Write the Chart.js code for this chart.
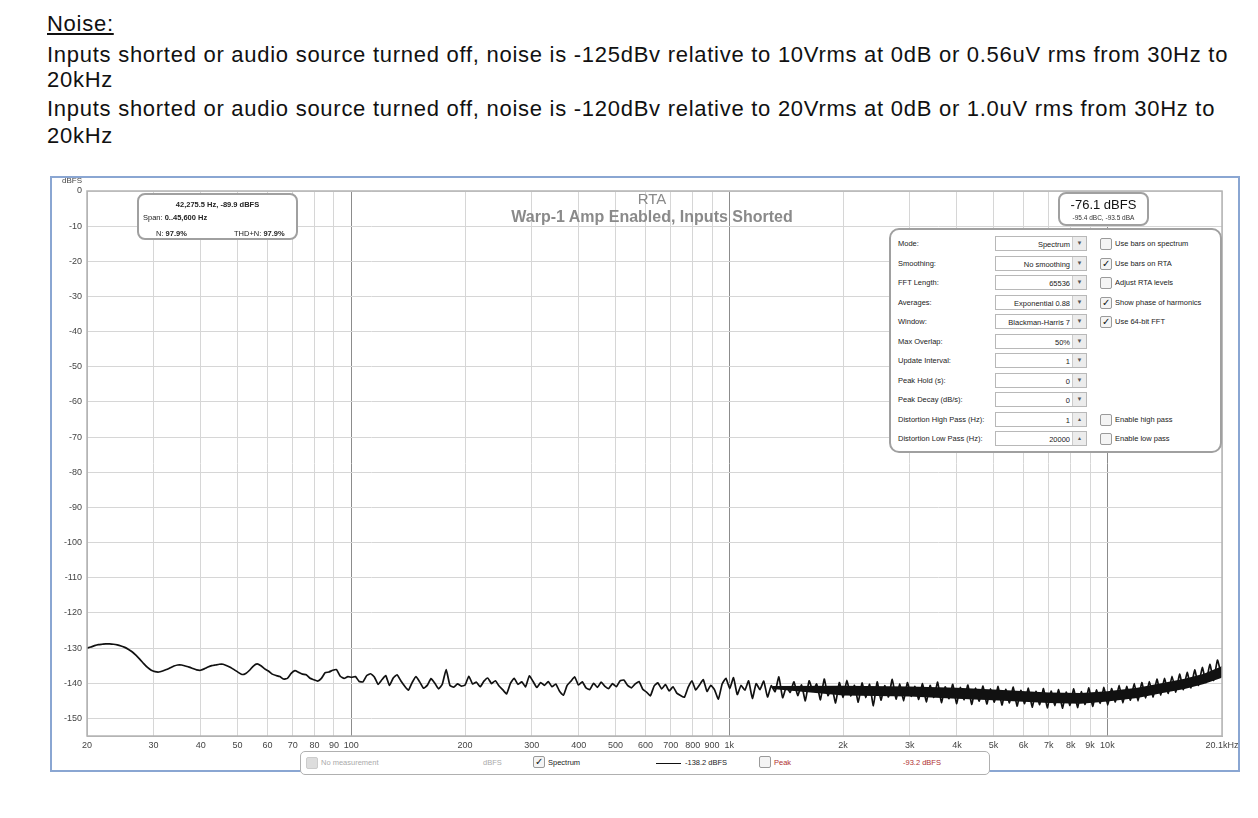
<!DOCTYPE html>
<html>
<head>
<meta charset="utf-8">
<title>RTA noise</title>
<script src="https://cdn.jsdelivr.net/npm/chart.js@4.4.1/dist/chart.umd.min.js"></script>
<style>
body { margin: 0; background: #fff; font-family: "Liberation Sans", Arial, sans-serif; }
.page { position: relative; width: 1258px; height: 818px; overflow: hidden; }
.txt { position: absolute; left: 47px; font-size: 22px; letter-spacing: 0.73px; line-height: 26px; color: #111; white-space: nowrap; }
.frame { position: absolute; left: 50px; top: 176px; width: 1186px; height: 592px; border: 2px solid #8aa6d2; background: #fff; }
#chartWrap { position: absolute; left: 52px; top: 178px; width: 1186px; height: 593px; }
.abs { position: absolute; white-space: nowrap; }
.box { position: absolute; background: #fff; border: 2px solid #a0a0a0; border-radius: 8px; box-sizing: border-box; }
.small { font-size: 7.5px; color: #222; }
.title { color: #8a8a8a; font-weight: bold; text-align: center; width: 400px; left: 452px; }
.row { position: absolute; left: 0; width: 332px; height: 16px; }
.row .lab { position: absolute; left: 7px; top: 3px; font-size: 7.5px; color: #222; }
.row .dd { position: absolute; left: 104px; top: 0; width: 92px; height: 15px; border: 1px solid #b8b8b8; box-sizing: border-box; background: #fff; }
.row .dd .v { position: absolute; right: 16px; top: 3px; font-size: 7.5px; color: #222; }
.row .dd .arr { position: absolute; right: 0; top: 0; width: 13px; height: 13px; border-left: 1px solid #ccc; background: #ececec; font-size: 6px; color: #555; text-align: center; line-height: 13px; }
.cb { position: absolute; width: 10px; height: 10px; border: 1px solid #9a9a9a; border-radius: 2px; background: #f4f4f4; font-size: 10px; line-height: 10px; text-align: center; color: #111; }
.row .cb { left: 209px; top: 2px; }
.row .cl { position: absolute; left: 224px; top: 3px; font-size: 7.5px; color: #222; }
.legend { position: absolute; left: 300px; top: 751px; width: 690px; height: 24px; border: 1px solid #b0b0b0; border-radius: 5px; background: #fff; box-sizing: border-box; }
.legend span.t { position: absolute; top: 6px; font-size: 7.5px; }
</style>
</head>
<body>
<div class="page">
  <div class="txt" style="top:11px; text-decoration: underline;">Noise:</div>
  <div class="txt" style="top:42px;">Inputs shorted or audio source turned off, noise is -125dBv relative to 10Vrms at 0dB or 0.56uV rms from 30Hz to</div>
  <div class="txt" style="top:67px;">20kHz</div>
  <div class="txt" style="top:96px;">Inputs shorted or audio source turned off, noise is -120dBv relative to 20Vrms at 0dB or 1.0uV rms from 30Hz to</div>
  <div class="txt" style="top:123px;">20kHz</div>

  <div class="frame"></div>
  <div id="chartWrap"><canvas id="rta" width="1186" height="593"></canvas></div>

  <div class="abs" style="left:62px; top:176px; font-size:8px; color:#444;">dBFS</div>

  <!-- cursor readout -->
  <div class="box" style="left:137px; top:193px; width:161px; height:47px;">
    <div class="abs small" style="left:0; width:157px; text-align:center; top:5px; font-weight:bold;">42,275.5 Hz, -89.9 dBFS</div>
    <div class="abs small" style="left:4px; top:18px;">Span: <b>0..45,600 Hz</b></div>
    <div class="abs small" style="left:17px; top:34px;">N: <b>97.9%</b></div>
    <div class="abs small" style="left:95px; top:34px;">THD+N: <b>97.9%</b></div>
  </div>

  <div class="abs title" style="top:190px; font-size:15px; font-weight:normal;">RTA</div>
  <div class="abs title" style="top:208px; font-size:16px;">Warp-1 Amp Enabled, Inputs Shorted</div>

  <div class="box" style="left:1058px; top:192px; width:91px; height:34px;">
    <div class="abs" style="left:0; width:87px; text-align:center; top:3px; font-size:13px; color:#111;">-76.1 dBFS</div>
    <div class="abs" style="left:0; width:87px; text-align:center; top:20px; font-size:6.5px; color:#333;">-95.4 dBC, -93.5 dBA</div>
  </div>

  <div class="box" id="panel" style="left:889px; top:228px; width:333px; height:225px; border-radius:10px;"></div>

  <div class="legend">
    <span class="cb" style="left:5px; top:5px; background:#ddd; border-color:#ccc;"></span>
    <span class="t" style="left:20px; color:#aaa;">No measurement</span>
    <span class="t" style="left:182px; color:#aaa;">dBFS</span>
    <span class="cb" style="left:232px; top:4px;">&#10003;</span>
    <span class="t" style="left:247px; color:#222;">Spectrum</span>
    <span class="abs" style="left:355px; top:11px; width:25px; height:0; border-top:1.5px solid #111;"></span>
    <span class="t" style="left:384px; color:#222;">-138.2 dBFS</span>
    <span class="cb" style="left:458px; top:4px;"></span>
    <span class="t" style="left:473px; color:#b03030;">Peak</span>
    <span class="t" style="left:602px; color:#b03030;">-93.2 dBFS</span>
  </div>
</div>

<script>
// spectrum: values in dBFS, one per bin, bins are log spaced from 20 Hz
var startHz = 20;
var binsPerDecade = 100;

// 20 Hz .. ~98 Hz
var lowDb = [
  -130.0, -129.7, -129.3, -129.0, -128.9, -128.8, -128.8, -128.9, -129.1, -129.4,
  -129.8, -130.4, -131.1, -132.1, -133.2, -134.4, -135.5, -136.3, -136.7, -136.8,
  -136.5, -136.1, -135.6, -135.1, -134.8, -134.8, -135.1, -135.4, -135.8, -136.2,
  -136.3, -135.9, -135.4, -135.0, -134.8, -134.6, -134.6, -135.0, -135.5, -136.2,
  -136.9, -137.5, -137.2, -136.3, -135.1, -134.5, -135.0, -135.9, -136.5, -137.4,
  -137.8, -138.1, -138.8, -138.6, -137.2, -136.4, -136.9, -137.4, -137.6, -138.6,
  -139.0, -139.4, -138.6, -137.0, -136.8, -136.3, -136.1, -138.0, -138.6, -138.1
];

// 100 Hz .. ~980 Hz
var midDb = [
  -138.3, -138.1, -139.5, -139.6, -137.8, -137.3, -138.2, -140.3, -139.0, -137.8,
  -140.6, -138.5, -137.6, -139.3, -140.8, -142.0, -139.8, -138.1, -139.6, -141.4,
  -140.6, -138.7, -140.0, -141.6, -140.2, -136.1, -140.6, -141.1, -140.2, -140.8,
  -140.5, -138.0, -140.2, -139.7, -141.0, -139.4, -138.5, -140.1, -139.3, -140.8,
  -141.9, -143.0, -140.0, -138.6, -140.3, -139.6, -141.0, -137.9, -139.5, -141.2,
  -139.8, -140.6, -139.5, -141.0, -140.2, -142.3, -143.4, -140.6, -139.4, -138.2,
  -140.5, -139.6, -141.3, -141.8, -140.0, -141.2, -139.7, -140.9, -141.5, -140.1,
  -141.0, -139.3, -139.1, -140.6, -141.3, -140.2, -139.5, -141.7, -142.5, -143.6,
  -140.8, -139.9, -141.6, -140.4, -142.2, -141.0, -142.8, -143.5, -144.0, -141.2,
  -139.3, -141.9, -140.5, -139.0, -142.3, -140.6, -141.9, -144.5, -140.2, -138.6
];

// 1 kHz .. 20 kHz
var highDb = [
  -141.5, -138.4, -143.2, -140.6, -142.0, -139.3, -144.3, -140.1, -141.8, -139.4,
  -143.9, -140.7, -142.4, -138.2, -144.1, -141.0, -142.6, -139.6, -143.5, -140.5,
  -145.0, -139.3, -142.2, -140.2, -144.7, -138.8, -143.5, -141.0, -145.6, -139.8,
  -144.0, -139.2, -143.6, -140.6, -145.4, -139.9, -144.1, -140.3, -146.4, -139.6,
  -144.8, -140.7, -143.9, -138.9, -144.5, -140.2, -145.0, -139.8, -143.7, -140.9,
  -144.6, -140.1, -145.3, -140.6, -144.0, -139.7, -145.5, -141.0, -144.4, -140.3,
  -145.8, -141.2, -144.7, -140.5, -146.0, -141.4, -145.1, -140.8, -145.9, -141.6,
  -145.4, -140.9, -146.2, -141.7, -145.6, -141.1, -146.5, -142.0, -145.8, -141.4,
  -146.8, -142.3, -146.1, -141.5, -147.0, -142.2, -146.4, -141.8, -147.1, -142.5,
  -146.3, -141.6, -146.9, -142.4, -146.0, -141.3, -146.6, -141.9, -145.7, -141.2,
  -146.2, -141.5, -145.3, -140.6, -145.6, -140.9, -144.8, -140.1, -145.0, -139.8,
  -144.2, -139.5, -143.9, -138.8, -143.4, -138.6, -142.9, -138.0, -142.5, -137.4,
  -141.8, -136.9, -141.3, -136.2, -140.6, -135.5, -139.8, -134.6, -139.2, -133.4,
  -137.5
];

// solid core of the dense noise band above ~1.3 kHz
var bandHz    = [1300, 2000, 3000, 4000, 5000, 7000, 8500, 10000, 12000, 14000, 16000, 18000, 20000, 20100];
var bandUpper = [-140.8, -140.7, -140.9, -141.3, -141.8, -142.6, -142.8, -142.3, -141.3, -139.9, -138.7, -137.3, -135.2, -135.0];
var bandLower = [-141.6, -143.5, -143.8, -144.4, -144.8, -145.6, -145.8, -145.2, -144.2, -142.8, -141.6, -140.2, -138.5, -138.3];

var freqTicks  = [20, 30, 40, 50, 60, 70, 80, 90, 100, 200, 300, 400, 500, 600, 700, 800, 900, 1000,
                  2000, 3000, 4000, 5000, 6000, 7000, 8000, 9000, 10000, 20100];
var freqLabels = ['20', '30', '40', '50', '60', '70', '80', '90', '100', '200', '300', '400', '500', '600', '700', '800', '900', '1k',
                  '2k', '3k', '4k', '5k', '6k', '7k', '8k', '9k', '10k', '20.1kHz'];
var dbTicks = [0, -10, -20, -30, -40, -50, -60, -70, -80, -90, -100, -110, -120, -130, -140, -150];

// settings panel rows: label, value, spinner?, checkbox text, checked
var panelRows = [
  ['Mode:', 'Spectrum', false, 'Use bars on spectrum', false],
  ['Smoothing:', 'No  smoothing', false, 'Use bars on RTA', true],
  ['FFT Length:', '65536', false, 'Adjust RTA levels', false],
  ['Averages:', 'Exponential 0.88', false, 'Show phase of harmonics', true],
  ['Window:', 'Blackman-Harris 7', false, 'Use 64-bit FFT', true],
  ['Max Overlap:', '50%', false, null, false],
  ['Update Interval:', '1', false, null, false],
  ['Peak Hold (s):', '0', false, null, false],
  ['Peak Decay (dB/s):', '0', false, null, false],
  ['Distortion High Pass (Hz):', '1', true, 'Enable high pass', false],
  ['Distortion Low Pass (Hz):', '20000', true, 'Enable low pass', false]
];

var panel = document.getElementById('panel');
panelRows.forEach(function (r, i) {
  var row = document.createElement('div');
  row.className = 'row';
  row.style.top = (6 + i * 19.5) + 'px';
  var html = '<span class="lab">' + r[0] + '</span>' +
    '<div class="dd"><span class="v">' + r[1] + '</span><span class="arr">' + (r[2] ? '&#9652;<br>' : '&#9660;') + '</span></div>';
  if (r[3]) {
    html += '<span class="cb">' + (r[4] ? '&#10003;' : '') + '</span><span class="cl">' + r[3] + '</span>';
  }
  row.innerHTML = html;
  panel.appendChild(row);
});

var noiseDb = lowDb.concat(midDb, highDb);
var noise = noiseDb.map(function (v, i) {
  return { x: startHz * Math.pow(10, i / binsPerDecade), y: v };
});

function pairs(xs, ys) {
  return xs.map(function (x, i) { return { x: x, y: ys[i] }; });
}

// frame around the whole plot area
var plotBorder = {
  id: 'plotBorder',
  afterDraw: function (chart) {
    var a = chart.chartArea, ctx = chart.ctx;
    ctx.save();
    ctx.strokeStyle = '#b4b4b4';
    ctx.lineWidth = 1.5;
    ctx.strokeRect(a.left, a.top, a.right - a.left, a.bottom - a.top);
    ctx.restore();
  }
};

var ctx = document.getElementById('rta').getContext('2d');
new Chart(ctx, {
  type: 'line',
  data: {
    datasets: [{
      data: pairs(bandHz, bandUpper),
      borderWidth: 0,
      pointRadius: 0,
      backgroundColor: '#111',
      fill: '+1'
    }, {
      data: pairs(bandHz, bandLower),
      borderWidth: 0,
      pointRadius: 0,
      fill: false
    }, {
      label: 'Spectrum',
      data: noise,
      borderColor: '#111',
      borderWidth: 1.7,
      pointRadius: 0,
      tension: 0.15,
      fill: false
    }]
  },
  options: {
    responsive: false,
    animation: false,
    devicePixelRatio: 1,
    layout: { padding: { top: 13, right: 16, bottom: 0, left: 0 } },
    plugins: { legend: { display: false }, tooltip: { enabled: false } },
    scales: {
      x: {
        type: 'logarithmic',
        min: 20,
        max: 20100,
        afterBuildTicks: function (s) {
          s.ticks = freqTicks.map(function (v) { return { value: v }; });
        },
        afterFit: function (s) {
          s.height = 35;
          s.paddingLeft = 0;
          s.paddingRight = 0;
        },
        ticks: {
          autoSkip: false,
          maxRotation: 0,
          padding: 4,
          color: '#444',
          font: { family: 'Liberation Sans', size: 9 },
          callback: function (v, i) { return freqLabels[i]; }
        },
        grid: {
          drawTicks: false,
          color: function (c) {
            var v = c.tick && c.tick.value;
            return (v === 100 || v === 1000 || v === 10000) ? '#8c8c8c' : '#d6d6d6';
          }
        },
        border: { color: '#b4b4b4' }
      },
      y: {
        min: -155,
        max: 0,
        afterBuildTicks: function (s) {
          s.ticks = dbTicks.map(function (v) { return { value: v }; });
        },
        afterFit: function (s) {
          s.width = 35;
          s.paddingTop = 0;
          s.paddingBottom = 0;
        },
        ticks: {
          padding: 5,
          color: '#444',
          font: { family: 'Liberation Sans', size: 9 }
        },
        grid: { drawTicks: false, color: '#d6d6d6' },
        border: { color: '#b4b4b4' }
      }
    }
  },
  plugins: [plotBorder]
});
</script>
</body>
</html>
